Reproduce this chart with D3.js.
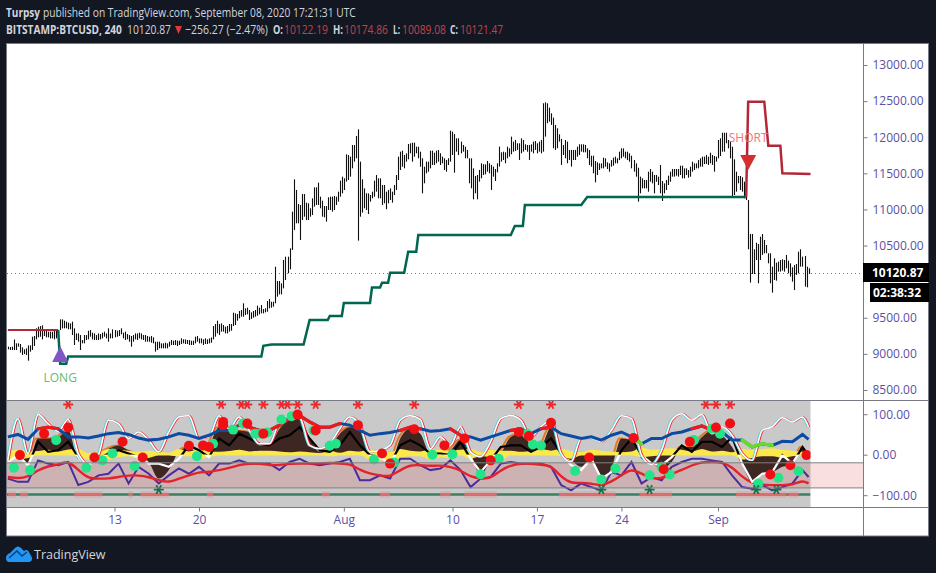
<!DOCTYPE html>
<html>
<head>
<meta charset="utf-8">
<title>BTCUSD</title>
<script src="https://cdn.jsdelivr.net/npm/d3@7"></script>
<style>
    html, body { margin: 0; padding: 0; background: #131722; overflow: hidden; }
    svg { display: block; }
    text { font-family: "Open Sans", "Noto Sans", sans-serif; }
</style>
</head>
<body>
<script>
// [high, low] of each 4h bar
const hiLo = [
    [9100,9063],[9095,9054],[9100,9054],[9200,9054],[9146,9054],[9146,9100],[9137,9017],[9091,8985],[9063,8998],[9077,8985],
    [9118,8906],[9118,9031],[9238,9054],[9248,9109],[9354,9201],[9377,9229],[9386,9238],[9395,9201],[9331,9248],[9321,9229],
    [9308,9229],[9308,9215],[9308,9215],[9331,9201],[9331,9215],[9331,9284],[9478,9331],[9478,9354],[9460,9354],[9446,9354],
    [9432,9340],[9423,9340],[9446,9261],[9354,9123],[9284,9192],[9284,9169],[9261,9054],[9192,9146],[9261,9146],[9261,9192],
    [9321,9201],[9331,9238],[9294,9201],[9284,9192],[9261,9192],[9284,9192],[9275,9201],[9294,9215],[9308,9238],[9284,9215],
    [9354,9169],[9284,9215],[9340,9215],[9331,9229],[9321,9238],[9331,9248],[9354,9271],[9294,9215],[9308,9192],[9275,9201],
    [9261,9169],[9248,9100],[9261,9169],[9284,9201],[9284,9192],[9294,9215],[9284,9201],[9261,9192],[9261,9169],[9248,9169],
    [9238,9169],[9248,9155],[9229,9146],[9169,9031],[9169,9054],[9169,9077],[9146,9077],[9146,9077],[9155,9077],[9146,9077],
    [9169,9100],[9192,9123],[9183,9123],[9192,9123],[9183,9109],[9183,9123],[9215,9137],[9201,9146],[9201,9137],[9192,9137],
    [9192,9123],[9183,9123],[9183,9123],[9238,9146],[9248,9169],[9215,9146],[9215,9146],[9201,9123],[9215,9137],[9201,9137],
    [9215,9146],[9229,9155],[9386,9201],[9414,9238],[9460,9284],[9414,9261],[9423,9308],[9400,9308],[9377,9284],[9386,9284],
    [9414,9308],[9414,9321],[9571,9386],[9561,9400],[9552,9460],[9594,9492],[9608,9515],[9700,9515],[9631,9538],[9640,9548],
    [9608,9469],[9575,9483],[9594,9501],[9608,9515],[9668,9529],[9640,9548],[9677,9561],[9621,9561],[9631,9575],[9732,9584],
    [9760,9631],[9723,9640],[9723,9654],[10207,9700],[10009,9792],[10009,9824],[9977,9824],[10300,9907],[10346,10023],[10346,10116],
    [10462,10171],[10969,10439],[11417,10716],[11269,10808],[11076,10808],[11062,10577],[11214,10854],[11214,10900],[11094,10854],[11085,10854],
    [11016,10900],[11154,10923],[11306,11039],[11306,11062],[11371,11062],[11177,11016],[11122,10900],[11048,10891],[11048,10831],[11168,10992],
    [11177,10992],[11177,10969],[11186,10992],[11177,11062],[11246,11108],[11399,11177],[11454,11223],[11431,11269],[11763,11385],[11754,11408],
    [11731,11454],[11892,11569],[11892,11662],[12017,11708],[12109,10568],[11662,10900],[11417,10956],[11292,11016],[11223,10992],[11223,10937],
    [11200,11108],[11246,11154],[11399,11177],[11477,11246],[11431,11154],[11431,11154],[11339,11062],[11339,11085],[11246,11002],[11269,11085],
    [11292,11131],[11246,11094],[11339,11200],[11477,11269],[11731,11408],[11800,11546],[11814,11592],[11754,11569],[11777,11662],[11906,11694],
    [11916,11777],[11925,11662],[11925,11731],[11869,11777],[11869,11708],[11800,11592],[11708,11223],[11592,11362],[11662,11500],[11662,11523],
    [11814,11569],[11814,11615],[11786,11615],[11814,11639],[11823,11662],[11777,11615],[11731,11639],[11708,11546],[11685,11523],[11708,11615],
    [12091,11662],[12077,11754],[12045,11509],[11985,11800],[11985,11754],[11939,11777],[11892,11800],[11869,11708],[11823,11708],[11708,11362],
    [11708,11292],[11569,11140],[11463,11223],[11477,11140],[11547,11385],[11639,11431],[11625,11477],[11625,11487],[11671,11523],[11639,11500],
    [11616,11270],[11593,11454],[11560,11394],[11639,11514],[11870,11593],[11791,11662],[11800,11685],[11791,11639],[11870,11708],[11847,11731],
    [12008,11764],[11939,11800],[11962,11810],[11916,11824],[11916,11685],[11985,11777],[11962,11800],[11902,11824],[11893,11800],[11893,11685],
    [11902,11800],[11939,11777],[11948,11824],[11916,11777],[11939,11800],[11962,11777],[12470,11800],[12483,12008],[12470,12193],[12410,12216],
    [12331,12170],[12271,11847],[12170,11824],[12124,11847],[12040,11939],[11976,11616],[11893,11754],[11962,11708],[11939,11639],[11824,11685],
    [11824,11593],[11824,11685],[11824,11685],[11870,11731],[11902,11754],[11902,11800],[11902,11791],[11893,11791],[11846,11708],[11823,11615],
    [11744,11592],[11744,11500],[11671,11375],[11652,11477],[11638,11546],[11638,11569],[11717,11569],[11708,11592],[11652,11560],[11638,11523],
    [11684,11592],[11717,11606],[11731,11638],[11708,11638],[11800,11684],[11846,11708],[11846,11731],[11800,11708],[11800,11684],[11777,11661],
    [11744,11569],[11684,11523],[11638,11454],[11578,11108],[11454,11223],[11431,11292],[11408,11292],[11408,11292],[11523,11246],[11560,11384],
    [11523,11361],[11477,11223],[11477,11384],[11454,11338],[11615,11223],[11394,11117],[11361,11223],[11408,11269],[11468,11338],[11523,11384],
    [11560,11454],[11560,11454],[11560,11468],[11560,11454],[11606,11477],[11606,11431],[11569,11431],[11569,11477],[11546,11440],[11592,11454],
    [11661,11523],[11638,11546],[11638,11569],[11684,11569],[11708,11592],[11731,11592],[11731,11629],[11754,11629],[11731,11616],[11786,11639],
    [11754,11616],[11740,11523],[11731,11662],[11962,11708],[11985,11740],[12063,11800],[12063,11800],[12063,11916],[11962,11846],[11939,11708],
    [11869,11177],[11694,11200],[11523,11246],[11463,11362],[11463,11269],[11445,11246],[11385,11154],[11362,11131],[11131,10448],[10660,9987],
    [10660,10106],[10448,10106],[10540,10300],[10522,9977],[10623,10300],[10660,10370],[10577,10393],[10508,10393],[10393,10254],[10393,9977],
    [10208,9848],[10323,10023],[10263,10014],[10277,10139],[10300,10139],[10310,10153],[10300,10139],[10370,10185],[10291,10116],[10254,10070],
    [10199,10000],[10231,9885],[10245,10093],[10416,10116],[10448,10208],[10347,10208],[10356,9931],[10208,9922],[10185,10106]
];

const lastPrice = 10120.87;
const priceTicks = [13000, 12500, 12000, 11500, 11000, 10500, 9500, 9000, 8500];
const oscTicks = [100, 0, -100];
const timeTickDates = ["2020-07-13", "2020-07-20", "2020-08-01", "2020-08-10", "2020-08-17", "2020-08-24", "2020-09-01"];
const timeTickLabels = ["13", "20", "Aug", "10", "17", "24", "Sep"];

// trailing stop lines, bar number and price
const redStopBeforeBars = [0, 25];
const redStopBeforePrices = [9331, 9331];
const greenStopBars = [25, 26, 29, 30, 126, 127, 131, 147, 150, 159, 160, 166, 167, 180, 181, 185, 186, 189, 190, 197, 199, 203, 204, 250, 252, 256, 257, 285, 288, 367];
const greenStopPrices = [9331, 8865, 8865, 8964, 8964, 9112, 9130, 9130, 9469, 9469, 9525, 9525, 9705, 9705, 9919, 9919, 9986, 9986, 10124, 10124, 10415, 10415, 10646, 10646, 10771, 10771, 11062, 11062, 11172, 11172];
const redStopBars = [367, 368, 376, 378, 384, 385, 399];
const redStopPrices = [11172, 12492, 12492, 11883, 11883, 11500, 11490];

// oscillator pane, one value every 5 bars
const waveValues = [
    -14, 89, 3, 99, 77, 58, 87, 3, -22, -1,
    85, 77, 40, 56, 36, 7, 56, 93, 96, 40,
    44, 96, 64, 93, 60, 27, 27, 81, 96, 93,
    23, 15, 27, 64, 93, 73, 7, 11, 23, 85,
    96, 87, 15, 44, 23, 69, 7, -5, 32, 89,
    97, 85, 44, 69, 85, 3, -18, 40, 40, 32,
    60, 96, 89, -1, -24, 11, 85, 101, 85, 99,
    52, 69, 48, 3, -14, 60, 69, 91, 81, 93, 69
];
const trendValues = [
    44, 50, 38, 64, 68, 64, 44, 44, 41, 46,
    52, 55, 50, 41, 36, 38, 44, 52, 48, 40,
    48, 60, 60, 73, 68, 60, 60, 73, 89, 97,
    81, 68, 68, 77, 73, 60, 48, 52, 55, 60,
    68, 64, 58, 60, 64, 48, 44, 36, 44, 52,
    60, 64, 52, 64, 68, 52, 46, 40, 44, 36,
    48, 56, 44, 27, 40, 40, 52, 56, 64, 71,
    60, 56, 36, 36, 19, 27, 23, 33, 32, 50, 38
];
const trendRedRuns = [[3, 5], [23, 33], [39, 41], [44, 45], [50, 51], [53, 54], [68, 70]];
const trendGreenRuns = [[62, 63], [73, 76]];
const histValues = [
    -6, -6, -22, 40, 40, 44, 60, -10, -1, 3,
    15, 23, 11, 3, -18, -59, -38, 7, 19, -1,
    23, 68, 64, 60, 56, 23, 23, 64, 85, 89,
    44, 7, 19, 52, 68, 60, -6, -6, -26, 40,
    64, 52, 3, 3, 11, 36, 3, -51, -14, 3,
    44, 52, 27, 23, 68, 3, -14, -30, -10, -59,
    -34, 40, 36, -10, -22, -34, -18, 19, 19, 44,
    60, 48, 19, -26, -67, -47, -43, -30, -26, 19, -10
];
const fastValues = [
    -18, -1, -26, 32, 7, 11, 32, -6, -26, -10,
    3, 11, 3, -6, -22, -22, -30, -10, 23, 11,
    -6, 40, 23, 52, 40, 27, 23, 40, 48, 68,
    40, 11, 7, 23, 56, 23, -1, -6, -22, 23,
    36, 23, 3, 3, -1, 32, -10, -43, -14, 19,
    23, 23, 7, 19, 40, 3, -26, -38, -10, -59,
    -43, 11, 40, -1, -22, -26, -6, 23, 7, 32,
    32, 19, 44, -22, -67, -47, -43, -1, -22, 19, -1
];
const yellowTop = [
    9, 12, 8, 9, 12, 8, 13, 14, 4, 6,
    14, 12, 10, 8, 10, 8, 5, 14, 8, 12,
    8, 7, 9, 12, 8, 10, 10, 8, 6, 8,
    6, 4, 10, 5, 10, 8, 12, 9, 6, 14,
    10, 8, 12, 12, 10, 12, 14, 6, 12, 10,
    10, 7, 10, 14, 10, 14, 9, 6, 12, 10,
    8, 6, 8, 18, 12, 14, 16, 12, 8, 14,
    8, 10, 6, 14, 12, 14, 16, 12, 10, 7, 6
];
const yellowBottom = [
    -12, -12, -8, -2, -2, -2, -2, -4, -12, -14,
    -12, -6, -4, -10, -8, -2, -2, -4, -4, -10,
    -6, -2, -2, -2, -2, -2, -2, -2, -2, -2,
    -2, -2, -4, -2, -2, -2, -12, -14, -14, -8,
    -4, -4, -12, -6, -8, -2, -10, -4, -6, -12,
    -2, -2, -2, -2, -2, -4, -10, -2, -2, -2,
    -2, -2, -2, -6, -4, -2, -2, -2, -2, -2,
    -2, -2, -2, -12, -8, -4, -4, -8, -4, -2, -2
];
const purpleValues = [
    -59, -67, -67, -14, -22, -26, -18, -75, -67, -51,
    -47, -22, -71, -30, -47, -71, -51, -34, -47, -30,
    -51, -22, -22, -14, -22, -22, -22, -38, -18, -10,
    -22, -26, -22, -18, -10, -63, -63, -51, -59, -10,
    -10, -26, -38, -34, -14, -38, -80, -59, -55, -22,
    -18, -22, -22, -22, -30, -75, -88, -71, -80, -88,
    -43, -51, -18, -71, -55, -63, -30, -18, -10, -10,
    -14, -18, -51, -80, -84, -75, -88, -80, -71, -38, -55
];
const signalValues = [
    -55, -59, -55, -38, -28, -25, -14, -38, -59, -59,
    -59, -55, -51, -51, -55, -63, -69, -59, -51, -43,
    -43, -38, -33, -25, -22, -22, -26, -26, -22, -22,
    -22, -22, -20, -22, -22, -38, -47, -51, -55, -38,
    -25, -26, -28, -26, -30, -38, -55, -59, -59, -38,
    -26, -22, -22, -25, -26, -55, -71, -69, -71, -77,
    -67, -51, -34, -47, -59, -59, -47, -38, -26, -18,
    -18, -18, -30, -55, -71, -75, -75, -75, -75, -63, -71
];

const greenDotBars = [3, 11, 24, 39, 47, 52, 63, 94, 102, 112, 117, 123, 126, 129, 136, 141, 152, 160, 163, 182, 192, 211, 221, 235, 244, 258, 261, 265, 282, 295, 302, 319, 325, 329, 341, 350, 354, 373, 383, 393];
const greenDotValues = [-32, -38, 36, -32, -14, 3, -28, -4, 27, 62, 77, 52, 52, 55, 87, 95, 60, 22, 27, -12, -19, 0, 1, -48, -10, 52, 25, 23, -40, -61, -34, -51, -30, -49, 36, 64, 52, -71, -57, -41];
const redDotBars = [6, 18, 30, 43, 57, 67, 90, 97, 100, 107, 107, 119, 127, 144, 153, 174, 186, 190, 202, 217, 227, 240, 254, 259, 270, 289, 311, 326, 339, 352, 359, 379, 389, 397];
const redDotValues = [-1, 52, 67, -7, 32, -7, 22, 23, 19, 81, 73, 77, 52, 99, 60, 73, 3, -22, 63, 23, 40, -14, 56, 46, 79, -7, 41, -36, 32, 67, 77, -49, -26, -1];

const redStarBars = [30, 106, 116, 119, 127, 136, 139, 144, 153, 174, 202, 254, 270, 347, 352, 359];
const greenStarBars = [75, 295, 319, 372, 382];
const stripRedRuns = [[0, 4], [6, 10], [33, 47], [60, 62], [66, 80], [99, 102], [156, 160], [185, 190], [215, 220], [227, 243], [274, 302], [314, 330], [362, 387], [388, 393]];

const width = 936;
const height = 573;
const textColor = "#d1d4dc";
const axisColor = "#5b4fa5";
const frameColor = "#787b86";

const parseDay = d3.utcParse("%Y-%m-%d");
const firstBar = new Date(Date.UTC(2020, 6, 4, 4));
const barDate = (i) => new Date(firstBar.getTime() + i * 4 * 3600 * 1000);

const xScale = d3.scaleUtc()
    .domain([parseDay("2020-07-13"), parseDay("2020-09-01")])
    .range([114.5, 718]);
const barX = (i) => xScale(barDate(i));

const priceY = d3.scaleLinear().domain([8500, 13000]).range([390, 65]);
const oscY = d3.scaleLinear().domain([-100, 100]).range([495.2, 414.2]);

const oscBar = (k) => Math.min(k * 5, hiLo.length - 1);

const svg = d3.select("body")
    .append("svg")
    .attr("width", width)
    .attr("height", height);

svg.append("rect").attr("width", width).attr("height", height).attr("fill", "#131722");
svg.append("rect").attr("x", 7).attr("y", 43).attr("width", 922).attr("height", 493).attr("fill", "#ffffff");

// header, the original font is narrower than anything installed so squeeze each piece
const header = svg.append("g").attr("font-size", 13);
const headerText = (x, y, w, str, color, weight) => {
    const t = header.append("text")
        .attr("fill", color)
        .attr("font-weight", weight || 400)
        .text(str);
    const squeeze = w / t.node().getComputedTextLength();
    t.attr("transform", `translate(${x},${y}) scale(${squeeze},1)`);
};
const headerRed = "#c0434c";
headerText(6, 17, 34, "Turpsy", textColor, 700);
headerText(43, 17, 313, "published on TradingView.com, September 08, 2020 17:21:31 UTC", textColor);
headerText(6, 34, 116, "BITSTAMP:BTCUSD, 240", textColor, 700);
headerText(127, 34, 44, "10120.87", textColor);
header.append("path").attr("d", "M175,26L182,26L178.5,34Z").attr("fill", "#e0393e");
headerText(185, 34, 83, "−256.27 (−2.47%)", textColor);
headerText(273, 34, 10, "O:", textColor, 700);
headerText(284, 34, 44, "10122.19", headerRed);
headerText(333, 34, 10, "H:", textColor, 700);
headerText(344, 34, 44, "10174.86", headerRed);
headerText(393, 34, 7, "L:", textColor, 700);
headerText(402, 34, 44, "10089.08", headerRed);
headerText(450, 34, 8, "C:", textColor, 700);
headerText(460, 34, 43, "10121.47", headerRed);

// oscillator pane
const osc = svg.append("g");
const oscLine = (values, curve) => d3.line()
    .x((d, i) => barX(oscBar(i)))
    .y((d) => oscY(d))
    .curve(curve || d3.curveLinear)(values);

const lastX = barX(hiLo.length - 1) + 2;
osc.append("rect")
    .attr("x", 7).attr("y", 401)
    .attr("width", lastX - 7).attr("height", 106)
    .attr("fill", "#c9c9c9");
osc.append("rect")
    .attr("x", 7).attr("y", oscY(-20))
    .attr("width", 856).attr("height", oscY(-82) - oscY(-20))
    .attr("fill", "#e2414a").attr("fill-opacity", 0.17);

const defs = svg.append("defs");
defs.append("clipPath").attr("id", "osc-above").append("rect")
    .attr("x", 0).attr("y", 401).attr("width", width).attr("height", oscY(0) - 401);
defs.append("clipPath").attr("id", "osc-below").append("rect")
    .attr("x", 0).attr("y", oscY(0)).attr("width", width).attr("height", 507 - oscY(0));
defs.append("clipPath").attr("id", "osc-pane").append("rect")
    .attr("x", 7).attr("y", 401).attr("width", lastX - 7).attr("height", 106);

const pane = osc.append("g").attr("clip-path", "url(#osc-pane)");

pane.append("path")
    .attr("d", oscLine(histValues, d3.curveMonotoneX))
    .attr("transform", "translate(-2,0)")
    .attr("clip-path", "url(#osc-above)")
    .attr("fill", "none").attr("stroke", "#e07b22").attr("stroke-width", 2);

const histArea = d3.area()
    .x((d, i) => barX(oscBar(i)))
    .y0(oscY(0))
    .y1((d) => oscY(d))
    .curve(d3.curveMonotoneX);
pane.append("path").attr("d", histArea(histValues)).attr("fill", "#3e2723");

const yellowArea = d3.area()
    .x((d, i) => barX(oscBar(i)))
    .y0((d, i) => oscY(yellowBottom[i]))
    .y1((d) => oscY(d))
    .curve(d3.curveMonotoneX);
pane.append("path").attr("d", yellowArea(yellowTop)).attr("fill", "#fbe84a");

osc.selectAll(".band-line")
    .data([-20, -82])
    .enter()
    .append("line")
    .attr("class", "band-line")
    .attr("x1", 7).attr("x2", 863)
    .attr("y1", (d) => oscY(d)).attr("y2", (d) => oscY(d))
    .attr("stroke", "#808080").attr("stroke-width", 1);

pane.append("path").attr("d", oscLine(purpleValues))
    .attr("fill", "none").attr("stroke", "#4a2c9c").attr("stroke-width", 2);
pane.append("path").attr("d", oscLine(signalValues, d3.curveBasis))
    .attr("fill", "none").attr("stroke", "#e3222b").attr("stroke-width", 2.4);

pane.append("path").attr("d", oscLine(fastValues))
    .attr("clip-path", "url(#osc-above)")
    .attr("fill", "none").attr("stroke", "#000000").attr("stroke-width", 2.2);
pane.append("path").attr("d", oscLine(fastValues))
    .attr("clip-path", "url(#osc-below)")
    .attr("fill", "none").attr("stroke", "#ffffff").attr("stroke-width", 2.2);

pane.append("path").attr("d", oscLine(waveValues, d3.curveMonotoneX))
    .attr("transform", "translate(-1,0)")
    .attr("fill", "none").attr("stroke", "#4dd0e1").attr("stroke-width", 1.4);
pane.append("path").attr("d", oscLine(waveValues, d3.curveMonotoneX))
    .attr("transform", "translate(1,0)")
    .attr("fill", "none").attr("stroke", "#f0262b").attr("stroke-width", 1.4);
pane.append("path").attr("d", oscLine(waveValues, d3.curveMonotoneX))
    .attr("fill", "none").attr("stroke", "#ffffff").attr("stroke-width", 1.5);

const trendLine = d3.line()
    .x((k) => barX(oscBar(k)))
    .y((k) => oscY(trendValues[k]));
pane.append("path").attr("d", trendLine(trendValues.map((d, i) => i)))
    .attr("fill", "none").attr("stroke", "#0d4aa3").attr("stroke-width", 3);
const drawRuns = (runs, color) => {
    runs.forEach((run) => {
        pane.append("path")
            .attr("d", trendLine(d3.range(run[0], run[1] + 1)))
            .attr("fill", "none").attr("stroke", color).attr("stroke-width", 3.2)
            .attr("stroke-linecap", "round");
    });
};
drawRuns(trendRedRuns, "#f01818");
drawRuns(trendGreenRuns, "#63e21c");

// bottom strip
const stripY = oscY(-98);
pane.append("line").attr("x1", 7).attr("x2", lastX)
    .attr("y1", stripY).attr("y2", stripY)
    .attr("stroke", "#3f7d60").attr("stroke-width", 2.5);
pane.selectAll(".strip-halo")
    .data(stripRedRuns)
    .enter()
    .append("line")
    .attr("class", "strip-halo")
    .attr("x1", (d) => barX(d[0])).attr("x2", (d) => barX(d[1]))
    .attr("y1", stripY).attr("y2", stripY)
    .attr("stroke", "#ef8a8a").attr("stroke-opacity", 0.35).attr("stroke-width", 7);
pane.selectAll(".strip-run")
    .data(stripRedRuns)
    .enter()
    .append("line")
    .attr("class", "strip-run")
    .attr("x1", (d) => barX(d[0])).attr("x2", (d) => barX(d[1]))
    .attr("y1", stripY).attr("y2", stripY)
    .attr("stroke", "#d9706f").attr("stroke-width", 2.5);

// dots and stars
const drawDots = (bars, values, color) => {
    pane.append("g").selectAll("circle")
        .data(bars)
        .enter()
        .append("circle")
        .attr("cx", (d) => barX(d))
        .attr("cy", (d, i) => oscY(values[i]))
        .attr("r", 5)
        .attr("fill", color);
};
drawDots(greenDotBars, greenDotValues, "#22e58a");
drawDots(redDotBars, redDotValues, "#f20f14");

const starPath = d3.symbol().type(d3.symbolAsterisk).size(70);
pane.append("g").selectAll("path")
    .data(redStarBars)
    .enter()
    .append("path")
    .attr("d", starPath)
    .attr("transform", (d) => `translate(${barX(d)},${oscY(124)}) rotate(30)`)
    .attr("fill", "none").attr("stroke", "#f0282d").attr("stroke-width", 1.8);
pane.append("g").selectAll("path")
    .data(greenStarBars)
    .enter()
    .append("path")
    .attr("d", starPath)
    .attr("transform", (d) => `translate(${barX(d)},${oscY(-86)}) rotate(30)`)
    .attr("fill", "none").attr("stroke", "#14704a").attr("stroke-width", 1.8);

// price pane
const main = svg.append("g");
const lastY = Math.round(priceY(lastPrice)) + 0.5;
main.append("line")
    .attr("x1", 7).attr("x2", 863)
    .attr("y1", lastY).attr("y2", lastY)
    .attr("stroke", "#2e9e6e").attr("stroke-width", 1).attr("stroke-dasharray", "1,3");

main.append("g").selectAll("line")
    .data(hiLo)
    .enter()
    .append("line")
    .attr("x1", (d, i) => Math.round(barX(i)) + 0.5)
    .attr("x2", (d, i) => Math.round(barX(i)) + 0.5)
    .attr("y1", (d) => priceY(d[0]))
    .attr("y2", (d) => priceY(d[1]))
    .attr("stroke", "#101010").attr("stroke-width", 1.1);

const stopLine = (bars, prices) => d3.line()
    .x((d) => barX(d))
    .y((d, i) => priceY(prices[i]))(bars);
main.append("path").attr("d", stopLine(redStopBeforeBars, redStopBeforePrices))
    .attr("fill", "none").attr("stroke", "#b2283a").attr("stroke-width", 2);
main.append("path").attr("d", stopLine(greenStopBars, greenStopPrices))
    .attr("fill", "none").attr("stroke", "#00664f").attr("stroke-width", 2.5);
main.append("path").attr("d", stopLine(redStopBars, redStopPrices))
    .attr("fill", "none").attr("stroke", "#b2283a").attr("stroke-width", 2.5);

// long and short signals
const longX = barX(26);
const longY = priceY(9109);
main.append("path")
    .attr("d", `M${longX},${longY}l8,16l-16,0z`)
    .attr("fill", "#7e57c2");
main.append("text")
    .attr("x", longX).attr("y", longY + 36)
    .attr("text-anchor", "middle").attr("font-size", 12)
    .attr("fill", "#66bb6a").text("LONG");

const shortX = barX(368);
const shortY = priceY(11546);
main.append("path")
    .attr("d", `M${shortX},${shortY}l8,-15l-16,0z`)
    .attr("fill", "#d32f2f");
main.append("text")
    .attr("x", shortX).attr("y", shortY - 28)
    .attr("text-anchor", "middle").attr("font-size", 12)
    .attr("fill", "#f07575").text("SHORT");

// frame
const frame = svg.append("g")
    .attr("stroke", frameColor).attr("stroke-width", 1).attr("fill", "none");
frame.append("rect").attr("x", 6.5).attr("y", 43.5).attr("width", 922).attr("height", 492.5);
frame.append("line").attr("x1", 7).attr("x2", 929).attr("y1", 400.5).attr("y2", 400.5);
frame.append("line").attr("x1", 7).attr("x2", 929).attr("y1", 507.5).attr("y2", 507.5);
frame.append("line").attr("x1", 863.5).attr("x2", 863.5).attr("y1", 43).attr("y2", 536);

// axes
const styleAxis = (g) => {
    g.select(".domain").remove();
    g.selectAll("line").attr("stroke", frameColor);
    g.selectAll("text").attr("fill", axisColor).attr("font-size", 12)
        .style("font-family", '"Open Sans", sans-serif');
};

svg.append("g")
    .attr("id", "price-axis")
    .attr("transform", "translate(863.5,0)")
    .call(d3.axisRight(priceY).tickValues(priceTicks).tickSize(4).tickPadding(5)
        .tickFormat((d) => d.toFixed(2)))
    .call(styleAxis);

svg.append("g")
    .attr("id", "osc-axis")
    .attr("transform", "translate(863.5,0)")
    .call(d3.axisRight(oscY).tickValues(oscTicks).tickSize(4).tickPadding(5)
        .tickFormat((d) => d.toFixed(2).replace("-", "−")))
    .call(styleAxis);

svg.append("g")
    .attr("id", "x-axis")
    .attr("transform", "translate(0,507.5)")
    .call(d3.axisBottom(xScale).tickValues(timeTickDates.map(parseDay)).tickSize(4).tickPadding(4)
        .tickFormat((d, i) => timeTickLabels[i]))
    .call(styleAxis);

// last price tags
const tags = svg.append("g");
tags.append("rect").attr("x", 863).attr("y", 263).attr("width", 66).attr("height", 19).attr("fill", "#000000");
tags.append("rect").attr("x", 870).attr("y", 283).attr("width", 59).attr("height", 19).attr("fill", "#000000");
tags.append("text").attr("x", 872).attr("y", 277).attr("fill", "#ffffff")
    .attr("font-size", 12).attr("font-weight", 700).text(lastPrice.toFixed(2));
tags.append("text").attr("x", 873).attr("y", 297).attr("fill", "#ffffff")
    .attr("font-size", 12).attr("font-weight", 700).text("02:38:32");

// logo
const logo = svg.append("g");
logo.append("path")
    .attr("d", "M6,558C6,555 8,554 10,553L15,548C17,546 19,546 21,548L24,551C26,549 28,550 29,552L31,556C33,558 32,562 29,562L9,562C7,562 6,560 6,558Z")
    .attr("fill", "#2196f3");
logo.append("path")
    .attr("d", "M9,558L17,551L22,556L27,552")
    .attr("fill", "none").attr("stroke", "#0b3f78").attr("stroke-width", 1.4);
logo.append("text").attr("x", 34).attr("y", 559)
    .attr("fill", textColor).attr("font-size", 12.5).text("TradingView");
</script>
</body>
</html>
